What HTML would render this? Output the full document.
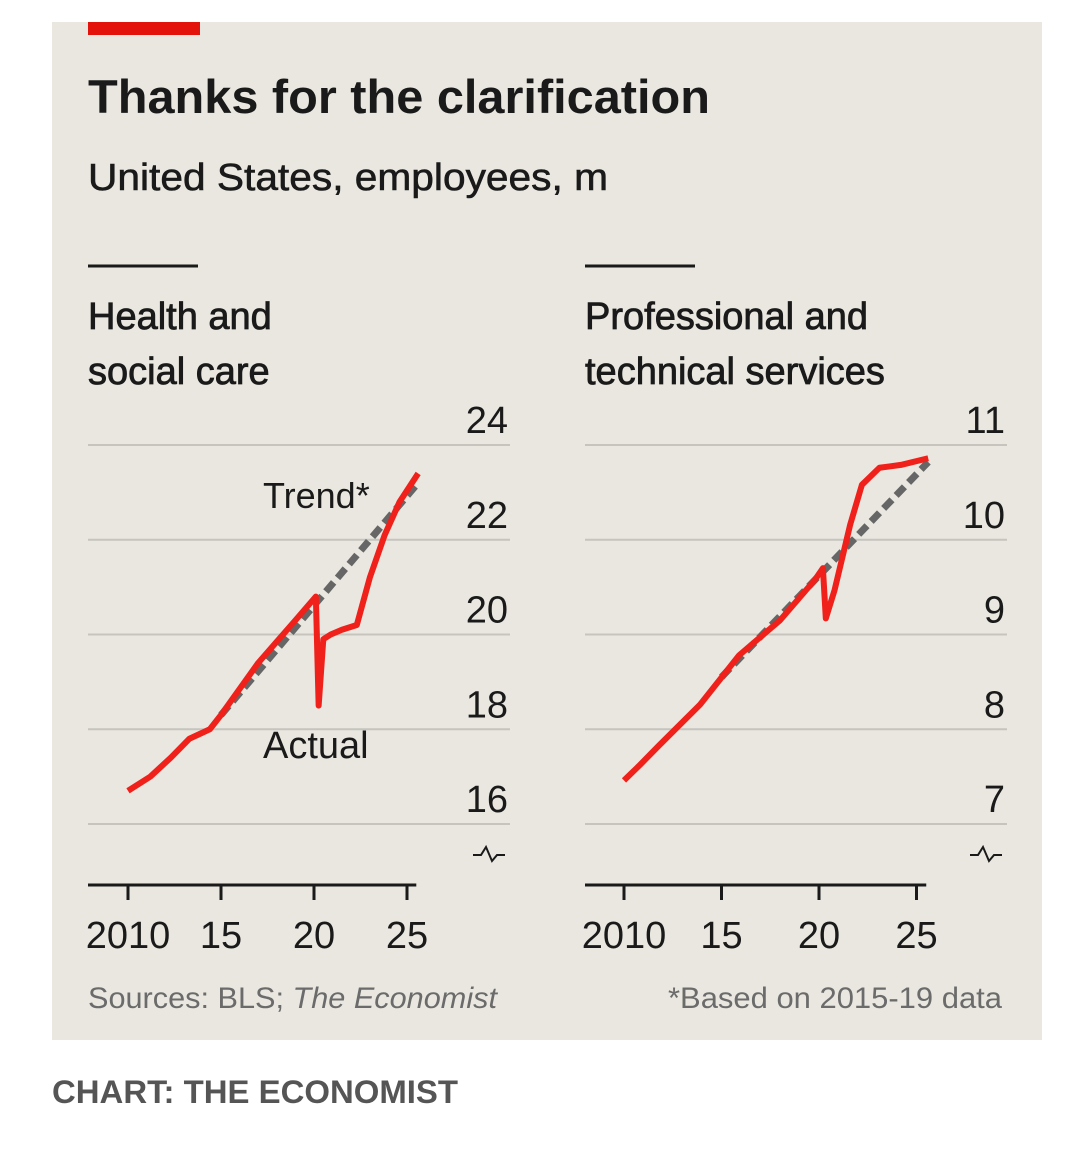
<!DOCTYPE html>
<html><head><meta charset="utf-8">
<style>
body{margin:0;width:1076px;height:1154px;background:#fff;font-family:"Liberation Sans",sans-serif;overflow:hidden}
</style></head>
<body>
<svg width="1076" height="1154" style="position:absolute;left:0;top:0">
<rect x="52" y="22" width="990" height="1018" fill="#e9e7df"/>
<rect x="88" y="22" width="112" height="13" fill="#e3120b"/>
<text x="88" y="113" font-size="47" font-weight="bold" fill="#1a1a1a" textLength="622" lengthAdjust="spacingAndGlyphs">Thanks for the clarification</text>
<text x="88" y="190" font-size="38" fill="#1a1a1a" stroke="#1a1a1a" stroke-width="0.6" textLength="520" lengthAdjust="spacingAndGlyphs">United States, employees, m</text>
<g id="left"></g>
<g id="right"></g>
<text x="88" y="1008" font-size="30" fill="#6b6b6b" textLength="409" lengthAdjust="spacingAndGlyphs">Sources: BLS; <tspan font-style="italic">The Economist</tspan></text>
<text x="1002" y="1008" font-size="30" fill="#6b6b6b" text-anchor="end" textLength="334" lengthAdjust="spacingAndGlyphs">*Based on 2015-19 data</text>
<text x="52" y="1103" font-size="32" font-weight="bold" fill="#555" textLength="406" lengthAdjust="spacingAndGlyphs">CHART: THE ECONOMIST</text>
</svg>
<script>
const healthYears=[2010,2011.2,2012.3,2013.3,2014.4,2015,2017,2019,2020.1,2020.25,2020.5,2020.9,2021.5,2022.3,2023,2023.8,2024.6,2025.6];
const healthValues=[16.7,17.0,17.4,17.8,18.0,18.3,19.4,20.3,20.8,18.5,19.9,20.0,20.1,20.2,21.2,22.1,22.8,23.4];
const healthTrendYears=[2015,2025.6];
const healthTrendValues=[18.3,23.2];
const healthTicks=[16,18,20,22,24];
const profYears=[2010,2010.8,2011.8,2013.9,2015.9,2018,2019.8,2020.2,2020.35,2020.8,2021.6,2022.2,2023.1,2024.2,2025.6];
const profValues=[7.46,7.62,7.83,8.26,8.78,9.15,9.58,9.70,9.17,9.47,10.16,10.58,10.76,10.79,10.86];
const profTrendYears=[2015,2025.6];
const profTrendValues=[8.55,10.82];
const profTicks=[7,8,9,10,11];
const xTickYears=[2010,2015,2020,2025];
const xTickLabels=["2010","15","20","25"];
const NS="http://www.w3.org/2000/svg";
function mk(p,t,a){const e=document.createElementNS(NS,t);for(const k in a)e.setAttribute(k,a[k]);p.appendChild(e);return e;}
function panel(g,o){
  const x=y=>o.x0+(y-2010)*o.xs;
  const yv=v=>824-(v-o.ticks[0])*(379/(o.ticks[4]-o.ticks[0]));
  let r=mk(g,'line',{x1:o.gx,x2:o.gx+110,y1:266,y2:266,stroke:'#1a1a1a','stroke-width':3});
  
  o.head.forEach((h,i)=>{const t=mk(g,'text',{x:o.gx,y:329+i*55,'font-size':38,fill:'#1a1a1a',stroke:'#1a1a1a','stroke-width':0.8});t.textContent=h;
    });
  o.ticks.forEach(v=>{const l=mk(g,'line',{x1:o.gx,x2:o.gx+422,y1:yv(v),y2:yv(v),stroke:'#c6c4bd','stroke-width':2});
    
    const t=mk(g,'text',{x:o.gx+420,y:yv(v)-12,'font-size':38,'text-anchor':'end',fill:'#1a1a1a'});t.textContent=v;
    });
  const b=mk(g,'path',{d:`M${o.gx+385} 855h8l5-8l6 14l5-6h8`,fill:'none',stroke:'#1a1a1a','stroke-width':2});
  
  const ax=mk(g,'line',{x1:o.gx,x2:x(2025.5),y1:885,y2:885,stroke:'#1a1a1a','stroke-width':3});
  
  xTickYears.forEach((yr,i)=>{const l=mk(g,'line',{x1:x(yr),x2:x(yr),y1:885,y2:900,stroke:'#1a1a1a','stroke-width':3});
    
    const t=mk(g,'text',{x:x(yr),y:948,'font-size':38,'text-anchor':'middle',fill:'#1a1a1a'});t.textContent=xTickLabels[i];
    });
  const tr=mk(g,'polyline',{points:o.ty.map((yr,i)=>x(yr)+','+yv(o.tv[i])).join(' '),fill:'none',stroke:'#666','stroke-width':7,'stroke-dasharray':'12 6'});
  
  const ac=mk(g,'polyline',{points:o.ay.map((yr,i)=>x(yr)+','+yv(o.av[i])).join(' '),fill:'none',stroke:'#f0201a','stroke-width':6,'stroke-linejoin':'round'});
  
}
panel(document.getElementById('left'),{x0:128,xs:18.6,gx:88,ticks:healthTicks,head:["Health and","social care"],ty:healthTrendYears,tv:healthTrendValues,ay:healthYears,av:healthValues});
panel(document.getElementById('right'),{x0:624,xs:19.5,gx:585,ticks:profTicks,head:["Professional and","technical services"],ty:profTrendYears,tv:profTrendValues,ay:profYears,av:profValues});
const L=document.getElementById('left');
let t1=mk(L,'text',{x:263,y:508,'font-size':36,fill:'#1a1a1a'});t1.textContent='Trend*';


let t2=mk(L,'text',{x:263,y:758,'font-size':38,fill:'#1a1a1a'});t2.textContent='Actual';


</script>
</body></html>
